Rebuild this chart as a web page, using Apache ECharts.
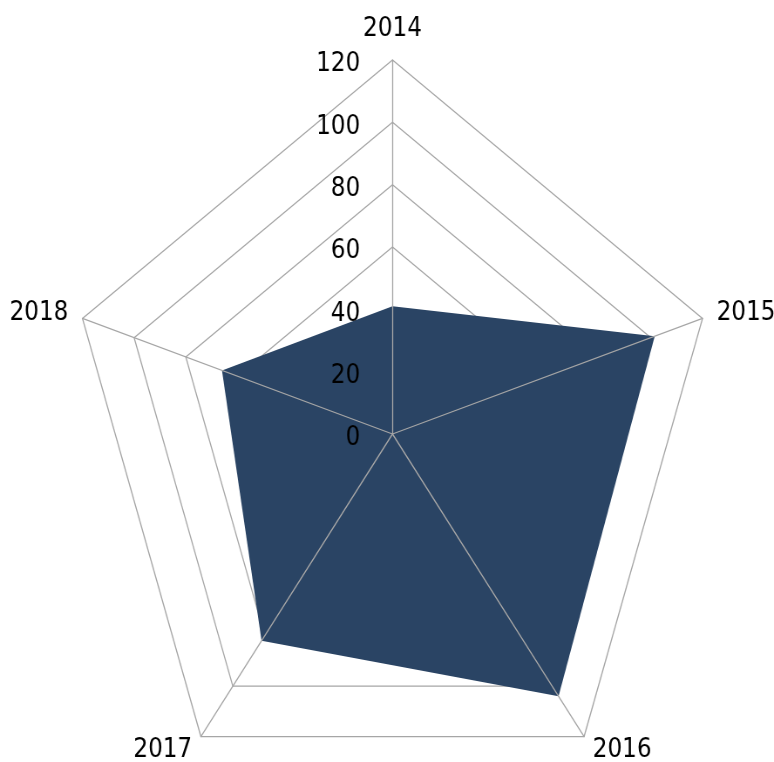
<!DOCTYPE html>
<html>
<head>
<meta charset="utf-8">
<script src="https://cdn.jsdelivr.net/npm/echarts@6/dist/echarts.min.js"></script>
<style>
html,body{margin:0;padding:0;background:#fff;}
#wrap{width:774px;height:762px;overflow:hidden;position:relative;}
#c{width:888px;height:762px;transform:scaleX(0.8716);transform-origin:0 0;}
</style>
</head>
<body>
<div id="wrap"><div id="c"></div></div>
<script>
// Data (clockwise from top, as in the reference)
const categories = ['2014', '2015', '2016', '2017', '2018'];
const values = [41, 101.5, 104, 82, 66];
const axisMax = 120;
const splitCount = 6;

// ECharts places indicators counter-clockwise; reorder to get clockwise layout
const order = [0].concat(categories.slice(1).map((_, i) => categories.length - 1 - i));
const indicatorsMain = order.map(i => ({ name: categories[i], min: 0, max: axisMax }));
const indicatorsTop = order.map((i, k) => ({
  name: categories[i], min: 0, max: axisMax,
  axisLabel: { show: k === 0 }
}));
const orderedValues = order.map(i => values[i]);

const FONT = 'DejaVu Sans';
const FS = 26.5;
const center = [450.3, 434];
const radius = 374;
const gridColor = '#a6a6a6';

const chart = echarts.init(document.getElementById('c'));
chart.setOption({
  animation: false,
  backgroundColor: '#ffffff',
  radar: [
    {
      center: center, radius: radius, startAngle: 90, shape: 'polygon',
      splitNumber: splitCount,
      indicator: indicatorsMain,
      axisName: { color: '#000', fontFamily: FONT, fontSize: FS },
      nameGap: 17,
      splitLine: { show: true, lineStyle: { color: gridColor, width: 1.3 } },
      splitArea: { show: false },
      axisLine: { show: false },
      axisTick: { show: false },
      axisLabel: { show: false },
      z: 0
    },
    {
      center: center, radius: radius, startAngle: 90, shape: 'polygon',
      splitNumber: splitCount,
      indicator: indicatorsTop,
      axisName: { show: false },
      splitLine: { show: false },
      splitArea: { show: false },
      axisLine: { show: true, lineStyle: { color: gridColor, width: 1.3 } },
      axisTick: { show: false },
      axisLabel: {
        show: false, color: '#000', fontFamily: FONT, fontSize: FS, margin: 37,
        formatter: '{v|{value}}',
        rich: { v: { color: '#000', fontFamily: FONT, fontSize: FS, padding: [9, 0, 0, 0] } }
      },
      z: 5
    }
  ],
  series: [{
    type: 'radar',
    radarIndex: 0,
    symbol: 'none',
    z: 2,
    lineStyle: { width: 0, color: '#2a4464' },
    areaStyle: { color: '#2a4464', opacity: 1 },
    data: [{ value: orderedValues, name: 'Series 1' }]
  }]
});
</script>
</body>
</html>
